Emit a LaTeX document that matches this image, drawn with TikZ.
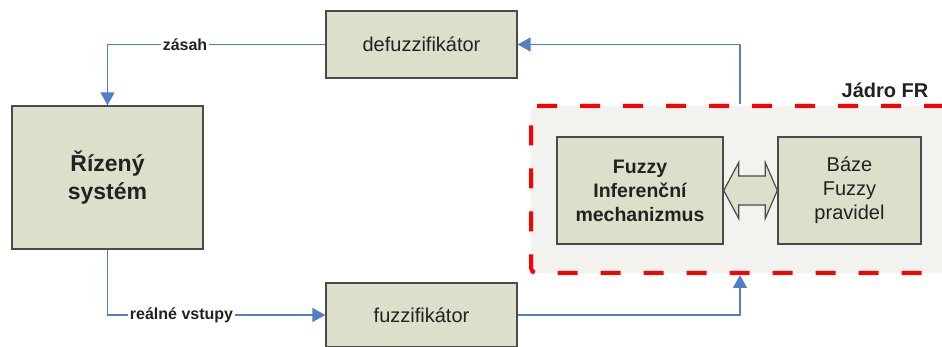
\documentclass[tikz,border=0pt]{standalone}
\usepackage{fontspec}
\setmainfont{Liberation Sans}
\usetikzlibrary{arrows.meta,calc}
\definecolor{boxfill}{HTML}{DCDFCA}
\definecolor{boxline}{HTML}{4A4A4A}
\definecolor{corefill}{HTML}{F2F2EE}
\definecolor{flowblue}{HTML}{4F80C8}
\definecolor{txt}{HTML}{222222}
\tikzset{
  block/.style={draw=boxline, line width=1.4pt, fill=boxfill, text=txt, align=center, inner sep=0pt},
  flow/.style={draw=flowblue, line width=1.8pt, -{Triangle[length=13pt,width=14pt,fill=flowblue]}},
  flowlabel/.style={fill=white, text=txt, inner sep=1.5pt, font=\fontsize{16}{19}\selectfont\bfseries},
  corebox/.style={draw=red, line width=4pt, dash pattern=on 20pt off 23pt, fill=corefill, rounded corners=5pt, inner sep=0pt},
  dblarrow/.style={draw=boxline, line width=1.2pt, fill=boxfill, line join=miter}
}
\begin{document}
\begin{tikzpicture}[x=1pt,y=-1pt]
\clip (0,0) rectangle (942,347);
\fill[white] (0,0) rectangle (942,347);
% core region
\node[corebox, minimum width=418pt, minimum height=167pt] (core) at (740,189.5) {};
\node[text=txt, font=\fontsize{20}{24}\selectfont\bfseries] (jadro) at (885,90) {Jádro FR};
% blocks
\node[block, minimum width=191pt, minimum height=67pt, font=\fontsize{20}{24}\selectfont] (defuz) at (421.5,44.5) {defuzzifikátor};
\node[block, minimum width=191pt, minimum height=143pt, font=\fontsize{23}{28}\selectfont\bfseries] (riz) at (107.5,177.5) {Řízený\\systém};
\node[block, minimum width=191pt, minimum height=64pt, font=\fontsize{20}{24}\selectfont] (fuz) at (421.5,315) {fuzzifikátor};
\node[block, minimum width=166pt, minimum height=107pt, font=\fontsize{19.5}{24}\selectfont\bfseries] (inf) at (640,190.5) {Fuzzy\\Inferenční\\mechanizmus};
\node[block, minimum width=143pt, minimum height=107pt, font=\fontsize{20}{24}\selectfont] (baze) at (849.5,190.5) {Báze\\Fuzzy\\pravidel};
% double arrow
\coordinate (dl) at (inf.east);
\coordinate (dr) at (baze.west);
\draw[dblarrow] (dl) -- ($(dl)+(15,-28)$) -- ($(dl)+(15,-14.5)$) -- ($(dr)+(-12,-14.5)$) -- ($(dr)+(-12,-28)$)
  -- (dr) -- ($(dr)+(-12,28)$) -- ($(dr)+(-12,14.5)$) -- ($(dl)+(15,14.5)$) -- ($(dl)+(15,28)$) -- cycle;
% flows
\draw[flow] (defuz.west) -| node[flowlabel, pos=0.322] (zasah) {zásah} (riz.north);
\draw[flow] (core.north) |- (defuz.east);
\draw[flow] (riz.south) |- node[flowlabel, pos=0.67] (realne) {reálné vstupy} (fuz.west);
\draw[flow] (fuz.east) -| (core.south);
\end{tikzpicture}
\end{document}
